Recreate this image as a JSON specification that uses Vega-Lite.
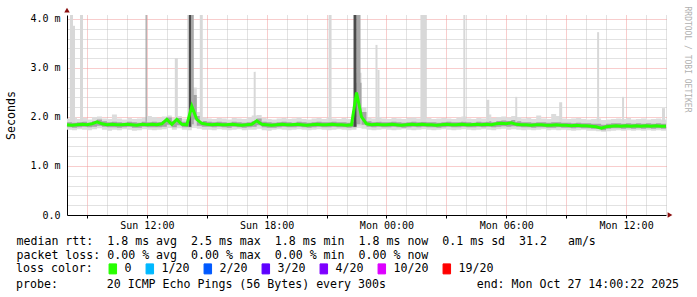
{
  "$schema": "https://vega.github.io/schema/vega-lite/v6.json",
  "width": 599,
  "height": 200,
  "autosize": {"type": "none"},
  "padding": {"left": 67, "top": 15, "right": 31, "bottom": 82},
  "background": "white",
  "config": {"view": {"stroke": null}, "font": "DejaVu Sans Mono"},
  "title": {
    "text": "probe: \u00a0\u00a0\u00a0\u00a0\u00a0\u00a020 ICMP Echo Pings (56 Bytes) every 300s \u00a0\u00a0\u00a0\u00a0\u00a0\u00a0\u00a0\u00a0\u00a0\u00a0\u00a0\u00a0end: Mon Oct 27 14:00:22 2025",
    "orient": "bottom", "anchor": "start", "frame": "group", "dx": -51, "offset": 3,
    "font": "DejaVu Sans Mono", "fontSize": 11.6, "fontWeight": "normal", "color": "#000000", "baseline": "top"
  },
  "datasets": {
    "smoke": [
      {"t":"2025-10-26T08:00:00Z","m":1.84,"lo":1.74,"hi":1.97,"q1":1.79,"q3":1.89,"loss":"0"},
      {"t":"2025-10-26T08:15:00Z","m":1.83,"lo":1.73,"hi":1.99,"q1":1.78,"q3":1.88,"loss":"0"},
      {"t":"2025-10-26T08:30:00Z","m":1.84,"lo":1.75,"hi":1.96,"q1":1.79,"q3":1.89,"loss":"0"},
      {"t":"2025-10-26T08:45:00Z","m":1.85,"lo":1.74,"hi":1.98,"q1":1.80,"q3":1.90,"loss":"0"},
      {"t":"2025-10-26T09:00:00Z","m":1.84,"lo":1.73,"hi":1.95,"q1":1.79,"q3":1.88,"loss":"0"},
      {"t":"2025-10-26T09:15:00Z","m":1.86,"lo":1.75,"hi":2.00,"q1":1.80,"q3":1.91,"loss":"0"},
      {"t":"2025-10-26T09:30:00Z","m":1.90,"lo":1.77,"hi":2.01,"q1":1.82,"q3":1.95,"loss":"0"},
      {"t":"2025-10-26T09:45:00Z","m":1.86,"lo":1.74,"hi":1.97,"q1":1.80,"q3":1.91,"loss":"0"},
      {"t":"2025-10-26T10:00:00Z","m":1.84,"lo":1.72,"hi":1.96,"q1":1.79,"q3":1.89,"loss":"0"},
      {"t":"2025-10-26T10:15:00Z","m":1.85,"lo":1.74,"hi":2.05,"q1":1.79,"q3":1.90,"loss":"0"},
      {"t":"2025-10-26T10:30:00Z","m":1.84,"lo":1.73,"hi":1.97,"q1":1.78,"q3":1.89,"loss":"0"},
      {"t":"2025-10-26T10:45:00Z","m":1.84,"lo":1.75,"hi":1.95,"q1":1.79,"q3":1.88,"loss":"0"},
      {"t":"2025-10-26T11:00:00Z","m":1.85,"lo":1.74,"hi":1.98,"q1":1.80,"q3":1.90,"loss":"0"},
      {"t":"2025-10-26T11:15:00Z","m":1.84,"lo":1.72,"hi":1.96,"q1":1.78,"q3":1.89,"loss":"0"},
      {"t":"2025-10-26T11:30:00Z","m":1.83,"lo":1.73,"hi":1.97,"q1":1.78,"q3":1.88,"loss":"0"},
      {"t":"2025-10-26T11:45:00Z","m":1.85,"lo":1.75,"hi":1.99,"q1":1.80,"q3":1.90,"loss":"0"},
      {"t":"2025-10-26T12:00:00Z","m":1.84,"lo":1.74,"hi":2.02,"q1":1.79,"q3":1.89,"loss":"0"},
      {"t":"2025-10-26T12:15:00Z","m":1.85,"lo":1.73,"hi":2.00,"q1":1.79,"q3":1.90,"loss":"0"},
      {"t":"2025-10-26T12:30:00Z","m":1.84,"lo":1.74,"hi":1.98,"q1":1.79,"q3":1.89,"loss":"0"},
      {"t":"2025-10-26T12:45:00Z","m":1.86,"lo":1.75,"hi":2.01,"q1":1.80,"q3":1.92,"loss":"0"},
      {"t":"2025-10-26T13:00:00Z","m":1.95,"lo":1.78,"hi":2.03,"q1":1.84,"q3":1.99,"loss":"0"},
      {"t":"2025-10-26T13:15:00Z","m":1.85,"lo":1.74,"hi":1.98,"q1":1.79,"q3":1.91,"loss":"0"},
      {"t":"2025-10-26T13:30:00Z","m":1.95,"lo":1.77,"hi":2.02,"q1":1.83,"q3":1.98,"loss":"0"},
      {"t":"2025-10-26T13:45:00Z","m":1.85,"lo":1.74,"hi":1.97,"q1":1.79,"q3":1.90,"loss":"0"},
      {"t":"2025-10-26T14:00:00Z","m":1.84,"lo":1.73,"hi":1.96,"q1":1.79,"q3":1.89,"loss":"0"},
      {"t":"2025-10-26T14:15:00Z","m":2.22,"lo":1.80,"hi":2.60,"q1":1.95,"q3":2.45,"loss":"0"},
      {"t":"2025-10-26T14:30:00Z","m":1.95,"lo":1.76,"hi":2.10,"q1":1.82,"q3":2.02,"loss":"0"},
      {"t":"2025-10-26T14:45:00Z","m":1.87,"lo":1.74,"hi":1.99,"q1":1.80,"q3":1.92,"loss":"0"},
      {"t":"2025-10-26T15:00:00Z","m":1.85,"lo":1.74,"hi":1.97,"q1":1.80,"q3":1.90,"loss":"0"},
      {"t":"2025-10-26T15:15:00Z","m":1.84,"lo":1.73,"hi":1.96,"q1":1.79,"q3":1.89,"loss":"0"},
      {"t":"2025-10-26T15:30:00Z","m":1.85,"lo":1.75,"hi":1.98,"q1":1.80,"q3":1.90,"loss":"0"},
      {"t":"2025-10-26T15:45:00Z","m":1.84,"lo":1.74,"hi":1.97,"q1":1.79,"q3":1.89,"loss":"0"},
      {"t":"2025-10-26T16:00:00Z","m":1.84,"lo":1.73,"hi":1.95,"q1":1.78,"q3":1.88,"loss":"0"},
      {"t":"2025-10-26T16:15:00Z","m":1.85,"lo":1.74,"hi":1.98,"q1":1.80,"q3":1.90,"loss":"0"},
      {"t":"2025-10-26T16:30:00Z","m":1.84,"lo":1.75,"hi":1.97,"q1":1.79,"q3":1.89,"loss":"0"},
      {"t":"2025-10-26T16:45:00Z","m":1.83,"lo":1.73,"hi":1.96,"q1":1.78,"q3":1.88,"loss":"0"},
      {"t":"2025-10-26T17:00:00Z","m":1.84,"lo":1.74,"hi":1.99,"q1":1.79,"q3":1.89,"loss":"0"},
      {"t":"2025-10-26T17:15:00Z","m":1.85,"lo":1.74,"hi":2.03,"q1":1.80,"q3":1.91,"loss":"0"},
      {"t":"2025-10-26T17:30:00Z","m":1.92,"lo":1.76,"hi":2.04,"q1":1.83,"q3":1.97,"loss":"0"},
      {"t":"2025-10-26T17:45:00Z","m":1.85,"lo":1.73,"hi":1.98,"q1":1.79,"q3":1.90,"loss":"0"},
      {"t":"2025-10-26T18:00:00Z","m":1.84,"lo":1.72,"hi":1.96,"q1":1.78,"q3":1.89,"loss":"0"},
      {"t":"2025-10-26T18:15:00Z","m":1.83,"lo":1.74,"hi":1.95,"q1":1.78,"q3":1.88,"loss":"0"},
      {"t":"2025-10-26T18:30:00Z","m":1.84,"lo":1.75,"hi":1.97,"q1":1.79,"q3":1.89,"loss":"0"},
      {"t":"2025-10-26T18:45:00Z","m":1.85,"lo":1.74,"hi":1.98,"q1":1.80,"q3":1.90,"loss":"0"},
      {"t":"2025-10-26T19:00:00Z","m":1.84,"lo":1.73,"hi":1.96,"q1":1.79,"q3":1.89,"loss":"0"},
      {"t":"2025-10-26T19:15:00Z","m":1.84,"lo":1.74,"hi":1.97,"q1":1.79,"q3":1.88,"loss":"0"},
      {"t":"2025-10-26T19:30:00Z","m":1.85,"lo":1.75,"hi":1.99,"q1":1.80,"q3":1.90,"loss":"0"},
      {"t":"2025-10-26T19:45:00Z","m":1.84,"lo":1.74,"hi":1.96,"q1":1.79,"q3":1.89,"loss":"0"},
      {"t":"2025-10-26T20:00:00Z","m":1.83,"lo":1.73,"hi":1.95,"q1":1.78,"q3":1.88,"loss":"0"},
      {"t":"2025-10-26T20:15:00Z","m":1.84,"lo":1.74,"hi":1.97,"q1":1.79,"q3":1.89,"loss":"0"},
      {"t":"2025-10-26T20:30:00Z","m":1.85,"lo":1.75,"hi":1.98,"q1":1.80,"q3":1.90,"loss":"0"},
      {"t":"2025-10-26T20:45:00Z","m":1.84,"lo":1.74,"hi":1.96,"q1":1.79,"q3":1.89,"loss":"0"},
      {"t":"2025-10-26T21:00:00Z","m":1.84,"lo":1.73,"hi":1.99,"q1":1.79,"q3":1.89,"loss":"0"},
      {"t":"2025-10-26T21:15:00Z","m":1.85,"lo":1.74,"hi":1.97,"q1":1.80,"q3":1.90,"loss":"0"},
      {"t":"2025-10-26T21:30:00Z","m":1.84,"lo":1.75,"hi":1.96,"q1":1.79,"q3":1.89,"loss":"0"},
      {"t":"2025-10-26T21:45:00Z","m":1.84,"lo":1.74,"hi":1.98,"q1":1.79,"q3":1.89,"loss":"0"},
      {"t":"2025-10-26T22:00:00Z","m":1.83,"lo":1.73,"hi":1.96,"q1":1.78,"q3":1.88,"loss":"0"},
      {"t":"2025-10-26T22:15:00Z","m":1.84,"lo":1.74,"hi":2.05,"q1":1.79,"q3":1.90,"loss":"0"},
      {"t":"2025-10-26T22:30:00Z","m":2.50,"lo":1.80,"hi":2.90,"q1":2.00,"q3":2.70,"loss":"0"},
      {"t":"2025-10-26T22:45:00Z","m":2.00,"lo":1.76,"hi":2.20,"q1":1.84,"q3":2.10,"loss":"0"},
      {"t":"2025-10-26T23:00:00Z","m":1.86,"lo":1.74,"hi":1.99,"q1":1.80,"q3":1.91,"loss":"0"},
      {"t":"2025-10-26T23:15:00Z","m":1.84,"lo":1.73,"hi":1.97,"q1":1.79,"q3":1.89,"loss":"0"},
      {"t":"2025-10-26T23:30:00Z","m":1.85,"lo":1.74,"hi":2.00,"q1":1.80,"q3":1.90,"loss":"0"},
      {"t":"2025-10-26T23:45:00Z","m":1.84,"lo":1.75,"hi":1.97,"q1":1.79,"q3":1.89,"loss":"0"},
      {"t":"2025-10-27T00:00:00Z","m":1.84,"lo":1.74,"hi":1.96,"q1":1.79,"q3":1.89,"loss":"0"},
      {"t":"2025-10-27T00:15:00Z","m":1.85,"lo":1.73,"hi":1.98,"q1":1.80,"q3":1.90,"loss":"0"},
      {"t":"2025-10-27T00:30:00Z","m":1.84,"lo":1.74,"hi":1.97,"q1":1.79,"q3":1.89,"loss":"0"},
      {"t":"2025-10-27T00:45:00Z","m":1.83,"lo":1.75,"hi":1.96,"q1":1.78,"q3":1.88,"loss":"0"},
      {"t":"2025-10-27T01:00:00Z","m":1.84,"lo":1.74,"hi":1.98,"q1":1.79,"q3":1.89,"loss":"0"},
      {"t":"2025-10-27T01:15:00Z","m":1.85,"lo":1.73,"hi":1.99,"q1":1.80,"q3":1.90,"loss":"0"},
      {"t":"2025-10-27T01:30:00Z","m":1.84,"lo":1.74,"hi":1.97,"q1":1.79,"q3":1.89,"loss":"0"},
      {"t":"2025-10-27T01:45:00Z","m":1.85,"lo":1.75,"hi":2.00,"q1":1.80,"q3":1.90,"loss":"0"},
      {"t":"2025-10-27T02:00:00Z","m":1.84,"lo":1.74,"hi":1.98,"q1":1.79,"q3":1.89,"loss":"0"},
      {"t":"2025-10-27T02:15:00Z","m":1.84,"lo":1.73,"hi":1.96,"q1":1.79,"q3":1.89,"loss":"0"},
      {"t":"2025-10-27T02:30:00Z","m":1.83,"lo":1.74,"hi":1.97,"q1":1.78,"q3":1.88,"loss":"0"},
      {"t":"2025-10-27T02:45:00Z","m":1.84,"lo":1.75,"hi":1.98,"q1":1.79,"q3":1.89,"loss":"0"},
      {"t":"2025-10-27T03:00:00Z","m":1.85,"lo":1.74,"hi":1.97,"q1":1.80,"q3":1.90,"loss":"0"},
      {"t":"2025-10-27T03:15:00Z","m":1.84,"lo":1.73,"hi":1.96,"q1":1.79,"q3":1.89,"loss":"0"},
      {"t":"2025-10-27T03:30:00Z","m":1.84,"lo":1.74,"hi":1.99,"q1":1.79,"q3":1.89,"loss":"0"},
      {"t":"2025-10-27T03:45:00Z","m":1.85,"lo":1.75,"hi":2.01,"q1":1.80,"q3":1.90,"loss":"0"},
      {"t":"2025-10-27T04:00:00Z","m":1.84,"lo":1.74,"hi":1.97,"q1":1.79,"q3":1.89,"loss":"0"},
      {"t":"2025-10-27T04:15:00Z","m":1.84,"lo":1.73,"hi":1.96,"q1":1.79,"q3":1.88,"loss":"0"},
      {"t":"2025-10-27T04:30:00Z","m":1.85,"lo":1.74,"hi":1.98,"q1":1.80,"q3":1.90,"loss":"0"},
      {"t":"2025-10-27T04:45:00Z","m":1.84,"lo":1.75,"hi":1.97,"q1":1.79,"q3":1.89,"loss":"0"},
      {"t":"2025-10-27T05:00:00Z","m":1.85,"lo":1.74,"hi":2.05,"q1":1.80,"q3":1.91,"loss":"0"},
      {"t":"2025-10-27T05:15:00Z","m":1.84,"lo":1.73,"hi":1.98,"q1":1.79,"q3":1.89,"loss":"0"},
      {"t":"2025-10-27T05:30:00Z","m":1.86,"lo":1.75,"hi":2.00,"q1":1.80,"q3":1.92,"loss":"0"},
      {"t":"2025-10-27T05:45:00Z","m":1.87,"lo":1.76,"hi":2.01,"q1":1.81,"q3":1.93,"loss":"0"},
      {"t":"2025-10-27T06:00:00Z","m":1.86,"lo":1.74,"hi":1.99,"q1":1.80,"q3":1.92,"loss":"0"},
      {"t":"2025-10-27T06:15:00Z","m":1.88,"lo":1.75,"hi":2.02,"q1":1.81,"q3":1.94,"loss":"0"},
      {"t":"2025-10-27T06:30:00Z","m":1.85,"lo":1.74,"hi":2.00,"q1":1.80,"q3":1.91,"loss":"0"},
      {"t":"2025-10-27T06:45:00Z","m":1.84,"lo":1.73,"hi":1.97,"q1":1.79,"q3":1.89,"loss":"0"},
      {"t":"2025-10-27T07:00:00Z","m":1.84,"lo":1.74,"hi":1.98,"q1":1.79,"q3":1.89,"loss":"0"},
      {"t":"2025-10-27T07:15:00Z","m":1.83,"lo":1.73,"hi":1.96,"q1":1.78,"q3":1.88,"loss":"0"},
      {"t":"2025-10-27T07:30:00Z","m":1.84,"lo":1.74,"hi":2.03,"q1":1.79,"q3":1.89,"loss":"0"},
      {"t":"2025-10-27T07:45:00Z","m":1.84,"lo":1.75,"hi":1.97,"q1":1.79,"q3":1.89,"loss":"0"},
      {"t":"2025-10-27T08:00:00Z","m":1.83,"lo":1.73,"hi":1.96,"q1":1.78,"q3":1.88,"loss":"0"},
      {"t":"2025-10-27T08:15:00Z","m":1.83,"lo":1.74,"hi":2.06,"q1":1.78,"q3":1.89,"loss":"0"},
      {"t":"2025-10-27T08:30:00Z","m":1.84,"lo":1.73,"hi":2.02,"q1":1.79,"q3":1.89,"loss":"0"},
      {"t":"2025-10-27T08:45:00Z","m":1.83,"lo":1.74,"hi":1.97,"q1":1.78,"q3":1.88,"loss":"0"},
      {"t":"2025-10-27T09:00:00Z","m":1.83,"lo":1.73,"hi":1.96,"q1":1.78,"q3":1.88,"loss":"0"},
      {"t":"2025-10-27T09:15:00Z","m":1.82,"lo":1.72,"hi":1.97,"q1":1.77,"q3":1.87,"loss":"0"},
      {"t":"2025-10-27T09:30:00Z","m":1.83,"lo":1.73,"hi":1.98,"q1":1.78,"q3":1.88,"loss":"0"},
      {"t":"2025-10-27T09:45:00Z","m":1.82,"lo":1.74,"hi":1.96,"q1":1.77,"q3":1.87,"loss":"0"},
      {"t":"2025-10-27T10:00:00Z","m":1.82,"lo":1.72,"hi":1.95,"q1":1.77,"q3":1.87,"loss":"0"},
      {"t":"2025-10-27T10:15:00Z","m":1.81,"lo":1.72,"hi":1.96,"q1":1.76,"q3":1.86,"loss":"0"},
      {"t":"2025-10-27T10:30:00Z","m":1.80,"lo":1.71,"hi":1.97,"q1":1.76,"q3":1.86,"loss":"0"},
      {"t":"2025-10-27T10:45:00Z","m":1.77,"lo":1.70,"hi":1.94,"q1":1.73,"q3":1.84,"loss":"0"},
      {"t":"2025-10-27T11:00:00Z","m":1.80,"lo":1.71,"hi":1.95,"q1":1.76,"q3":1.86,"loss":"0"},
      {"t":"2025-10-27T11:15:00Z","m":1.81,"lo":1.72,"hi":1.96,"q1":1.77,"q3":1.87,"loss":"0"},
      {"t":"2025-10-27T11:30:00Z","m":1.82,"lo":1.73,"hi":1.97,"q1":1.77,"q3":1.87,"loss":"0"},
      {"t":"2025-10-27T11:45:00Z","m":1.81,"lo":1.72,"hi":1.96,"q1":1.76,"q3":1.86,"loss":"0"},
      {"t":"2025-10-27T12:00:00Z","m":1.82,"lo":1.73,"hi":1.98,"q1":1.77,"q3":1.87,"loss":"0"},
      {"t":"2025-10-27T12:15:00Z","m":1.81,"lo":1.72,"hi":1.95,"q1":1.76,"q3":1.86,"loss":"0"},
      {"t":"2025-10-27T12:30:00Z","m":1.82,"lo":1.73,"hi":1.96,"q1":1.77,"q3":1.87,"loss":"0"},
      {"t":"2025-10-27T12:45:00Z","m":1.81,"lo":1.72,"hi":1.97,"q1":1.76,"q3":1.86,"loss":"0"},
      {"t":"2025-10-27T13:00:00Z","m":1.82,"lo":1.73,"hi":1.95,"q1":1.77,"q3":1.87,"loss":"0"},
      {"t":"2025-10-27T13:15:00Z","m":1.81,"lo":1.72,"hi":1.96,"q1":1.76,"q3":1.86,"loss":"0"},
      {"t":"2025-10-27T13:30:00Z","m":1.82,"lo":1.73,"hi":1.97,"q1":1.77,"q3":1.87,"loss":"0"},
      {"t":"2025-10-27T13:45:00Z","m":1.81,"lo":1.72,"hi":1.95,"q1":1.76,"q3":1.86,"loss":"0"},
      {"t":"2025-10-27T14:00:00Z","m":1.81,"lo":1.72,"hi":1.95,"q1":1.76,"q3":1.86,"loss":"0"}
    ],
    "spikes": [
      {"t":"2025-10-26T08:09:00Z","t2":"2025-10-26T08:18:00Z","top":4.1,"base":1.9,"band":"light"},
      {"t":"2025-10-26T08:18:00Z","t2":"2025-10-26T08:24:00Z","top":3.86,"base":1.9,"band":"light"},
      {"t":"2025-10-26T08:39:00Z","t2":"2025-10-26T08:48:00Z","top":4.1,"base":1.9,"band":"light"},
      {"t":"2025-10-26T11:56:00Z","t2":"2025-10-26T12:00:00Z","top":4.1,"base":1.9,"band":"mid"},
      {"t":"2025-10-26T13:24:00Z","t2":"2025-10-26T13:33:00Z","top":3.2,"base":1.9,"band":"light"},
      {"t":"2025-10-26T14:03:00Z","t2":"2025-10-26T14:06:00Z","top":4.1,"base":1.9,"band":"light"},
      {"t":"2025-10-26T14:06:00Z","t2":"2025-10-26T14:13:00Z","top":4.1,"base":1.8,"band":"dark"},
      {"t":"2025-10-26T14:13:00Z","t2":"2025-10-26T14:21:00Z","top":4.1,"base":1.85,"band":"mid"},
      {"t":"2025-10-26T14:39:00Z","t2":"2025-10-26T14:48:00Z","top":4.1,"base":1.9,"band":"light"},
      {"t":"2025-10-26T17:21:00Z","t2":"2025-10-26T17:27:00Z","top":2.92,"base":1.9,"band":"light"},
      {"t":"2025-10-26T21:06:00Z","t2":"2025-10-26T21:15:00Z","top":4.1,"base":1.9,"band":"light"},
      {"t":"2025-10-26T22:21:00Z","t2":"2025-10-26T22:30:00Z","top":4.1,"base":1.8,"band":"dark"},
      {"t":"2025-10-26T22:30:00Z","t2":"2025-10-26T22:42:00Z","top":4.1,"base":1.85,"band":"mid"},
      {"t":"2025-10-26T23:27:00Z","t2":"2025-10-26T23:33:00Z","top":3.47,"base":1.9,"band":"light"},
      {"t":"2025-10-26T23:33:00Z","t2":"2025-10-26T23:39:00Z","top":2.96,"base":1.9,"band":"light"},
      {"t":"2025-10-27T01:42:00Z","t2":"2025-10-27T02:00:00Z","top":4.1,"base":1.9,"band":"light"},
      {"t":"2025-10-27T03:51:00Z","t2":"2025-10-27T03:57:00Z","top":4.1,"base":1.9,"band":"light"},
      {"t":"2025-10-27T05:00:00Z","t2":"2025-10-27T05:09:00Z","top":2.35,"base":1.9,"band":"light"},
      {"t":"2025-10-27T06:27:00Z","t2":"2025-10-27T06:33:00Z","top":2.41,"base":1.9,"band":"light"},
      {"t":"2025-10-27T08:39:00Z","t2":"2025-10-27T08:48:00Z","top":2.3,"base":1.9,"band":"light"},
      {"t":"2025-10-27T10:33:00Z","t2":"2025-10-27T10:39:00Z","top":3.73,"base":1.9,"band":"light"},
      {"t":"2025-10-27T11:48:00Z","t2":"2025-10-27T11:54:00Z","top":2.41,"base":1.9,"band":"light"},
      {"t":"2025-10-27T13:48:00Z","t2":"2025-10-27T13:57:00Z","top":2.18,"base":1.9,"band":"light"}
    ],
    "arrows": [
      {"t":"2025-10-26T08:00:00Z","v":4.18,"dir":"up"},
      {"t":"2025-10-27T14:12:00Z","v":0,"dir":"right"}
    ]
  },
  "layer": [
    {
      "data": {"name": "smoke"},
      "mark": {"type": "area", "interpolate": "step-after", "color": "#dcdcdc", "opacity": 1},
      "encoding": {
        "x": {"field": "t", "type": "temporal", "scale": {"type": "utc", "domain": [1761465600000, 1761573600000]},
          "axis": {"orient": "bottom", "values": [1761472800000,1761476400000,1761483600000,1761487200000,1761494400000,1761498000000,1761505200000,1761508800000,1761516000000,1761519600000,1761526800000,1761530400000,1761537600000,1761541200000,1761548400000,1761552000000,1761559200000,1761562800000,1761570000000,1761573600000],
            "grid": true, "gridColor": "#c4c4c4", "gridDash": [1, 1], "gridWidth": 1, "labels": false, "ticks": false, "domain": false, "title": null}},
        "y": {"field": "hi", "type": "quantitative", "scale": {"domain": [0, 4.08], "nice": false, "zero": true},
          "axis": {"orient": "left", "values": [0.2,0.4,0.6,0.8,1.2,1.4,1.6,1.8,2.2,2.4,2.6,2.8,3.2,3.4,3.6,3.8],
            "grid": true, "gridColor": "#c4c4c4", "gridDash": [1, 1], "gridWidth": 1, "labels": false, "ticks": false, "domain": false, "title": null}},
        "y2": {"field": "lo"}
      }
    },
    {
      "data": {"name": "smoke"},
      "mark": {"type": "area", "interpolate": "step-after", "color": "#a4a4a4", "opacity": 1},
      "encoding": {
        "x": {"field": "t", "type": "temporal", "scale": {"type": "utc", "domain": [1761465600000, 1761573600000]},
          "axis": {"orient": "bottom", "values": [1761469200000,1761480000000,1761490800000,1761501600000,1761512400000,1761523200000,1761534000000,1761544800000,1761555600000,1761566400000],
            "grid": true, "gridColor": "#f09a9a", "gridDash": [1, 1], "gridWidth": 1, "labels": false, "ticks": true, "tickSize": 3, "tickColor": "#000000", "domain": false, "title": null}},
        "y": {"field": "q3", "type": "quantitative", "scale": {"domain": [0, 4.08], "nice": false, "zero": true},
          "axis": {"orient": "left", "values": [1, 2, 3, 4],
            "grid": true, "gridColor": "#f09a9a", "gridDash": [1, 1], "gridWidth": 1, "labels": false, "ticks": false, "domain": false, "title": null}},
        "y2": {"field": "q1"}
      }
    },
    {
      "data": {"name": "spikes"},
      "transform": [{"filter": "datum.band == 'light'"}],
      "mark": {"type": "rect", "color": "#d8d8d8", "clip": true},
      "encoding": {
        "x": {"field": "t", "type": "temporal", "scale": {"type": "utc", "domain": [1761465600000, 1761573600000]},
          "axis": {"orient": "bottom", "values": [1761480000000,1761501600000,1761523200000,1761544800000,1761566400000],
            "grid": false, "ticks": false, "domain": true, "domainColor": "#000000", "domainWidth": 1,
            "labelExpr": "utcFormat(datum.value, '%a %H:%M')", "labelFont": "DejaVu Sans Mono", "labelFontSize": 10, "labelColor": "#000000",
            "labelPadding": 5, "labelFlush": false, "labelOverlap": false,
            "title": ["median rtt: \u00a01.8 ms avg \u00a02.5 ms max \u00a01.8 ms min \u00a01.8 ms now \u00a00.1 ms sd \u00a031.2 \u00a0\u00a0am/s", "packet loss: 0.00 % avg \u00a00.00 % max \u00a00.00 % min \u00a00.00 % now"],
            "titleFont": "DejaVu Sans Mono", "titleFontSize": 11.6, "titleFontWeight": "normal", "titleColor": "#000000",
            "titleAlign": "left", "titleBaseline": "top", "titleAnchor": "start", "titleX": -51, "titleY": 20, "titleLineHeight": 14.5}},
        "x2": {"field": "t2"},
        "y": {"field": "top", "type": "quantitative", "scale": {"domain": [0, 4.08], "nice": false, "zero": true},
          "axis": {"orient": "left", "values": [0, 1, 2, 3, 4], "grid": false, "ticks": false, "domain": true, "domainColor": "#000000",
            "labelExpr": "datum.value == 0 ? '0.0' : format(datum.value, '.1f') + ' m'", "labelFont": "DejaVu Sans Mono", "labelFontSize": 10, "labelColor": "#000000", "labelPadding": 7,
            "title": "Seconds", "titleFont": "DejaVu Sans Mono", "titleFontSize": 11.6, "titleFontWeight": "normal", "titleColor": "#000000",
            "titleAngle": -90, "titleAlign": "center", "titleBaseline": "middle", "titleX": -56, "titleY": 100}},
        "y2": {"field": "base"}
      }
    },
    {
      "data": {"name": "spikes"},
      "transform": [{"filter": "datum.band == 'mid'"}],
      "mark": {"type": "rect", "color": "#a8a8a8", "clip": true},
      "encoding": {
        "x": {"field": "t", "type": "temporal", "scale": {"type": "utc", "domain": [1761465600000, 1761573600000]}, "axis": null},
        "x2": {"field": "t2"},
        "y": {"field": "top", "type": "quantitative", "scale": {"domain": [0, 4.08], "nice": false, "zero": true}, "axis": null},
        "y2": {"field": "base"}
      }
    },
    {
      "data": {"name": "spikes"},
      "transform": [{"filter": "datum.band == 'dark'"}],
      "mark": {"type": "rect", "color": "#4a4a4a", "clip": true},
      "encoding": {
        "x": {"field": "t", "type": "temporal", "scale": {"type": "utc", "domain": [1761465600000, 1761573600000]}, "axis": null},
        "x2": {"field": "t2"},
        "y": {"field": "top", "type": "quantitative", "scale": {"domain": [0, 4.08], "nice": false, "zero": true}, "axis": null},
        "y2": {"field": "base"}
      }
    },
    {
      "data": {"name": "smoke"},
      "mark": {"type": "line", "strokeWidth": 3, "interpolate": "linear"},
      "encoding": {
        "x": {"field": "t", "type": "temporal", "scale": {"type": "utc", "domain": [1761465600000, 1761573600000]}, "axis": null},
        "y": {"field": "m", "type": "quantitative", "scale": {"domain": [0, 4.08], "nice": false, "zero": true},
          "axis": {"orient": "right", "grid": false, "labels": false, "ticks": false, "domain": false,
            "title": "RRDTOOL / TOBI OETIKER", "titleFont": "DejaVu Sans Mono", "titleFontSize": 8, "titleFontWeight": "normal", "titleColor": "#b0b0b0",
            "titleAngle": 90, "titleAlign": "center", "titleBaseline": "middle", "titleX": 20, "titleY": 44}},
        "color": {"field": "loss", "type": "nominal",
          "scale": {"domain": ["0", "1/20", "2/20", "3/20", "4/20", "10/20", "19/20"], "range": ["#26ff00", "#00b8ff", "#0059ff", "#5e00ff", "#7e00ff", "#dd00ff", "#ff0000"]},
          "legend": {"orient": "none", "legendX": -51, "legendY": 248, "direction": "horizontal",
            "title": "loss color:", "titleOrient": "left", "titleFont": "DejaVu Sans Mono", "titleFontSize": 11.6, "titleFontWeight": "normal", "titleColor": "#000000", "titlePadding": 14,
            "labelFont": "DejaVu Sans Mono", "labelFontSize": 11.6, "labelColor": "#000000", "labelOffset": 6, "columnPadding": 12,
            "symbolType": "M-0.75,-1H0.75V1H-0.75Z", "symbolSize": 100, "symbolStrokeWidth": 1, "symbolStrokeColor": "#000000", "padding": 0,
            "encode": {"symbols": {"update": {"fill": {"scale": "color", "field": "value"}, "stroke": {"value": "#000000"}, "strokeWidth": {"value": 1}, "opacity": {"value": 1}}}}}}
      }
    },
    {
      "data": {"name": "arrows"},
      "mark": {"type": "point", "filled": true, "color": "#8b1010", "size": 30, "opacity": 1},
      "encoding": {
        "x": {"field": "t", "type": "temporal", "scale": {"type": "utc", "domain": [1761465600000, 1761573600000]}, "axis": null},
        "y": {"field": "v", "type": "quantitative", "scale": {"domain": [0, 4.08], "nice": false, "zero": true}, "axis": null},
        "shape": {"field": "dir", "type": "nominal", "scale": {"domain": ["up", "right"], "range": ["triangle-up", "triangle-right"]}, "legend": null}
      }
    }
  ],
  "resolve": {"axis": {"x": "independent", "y": "independent"}}
}
